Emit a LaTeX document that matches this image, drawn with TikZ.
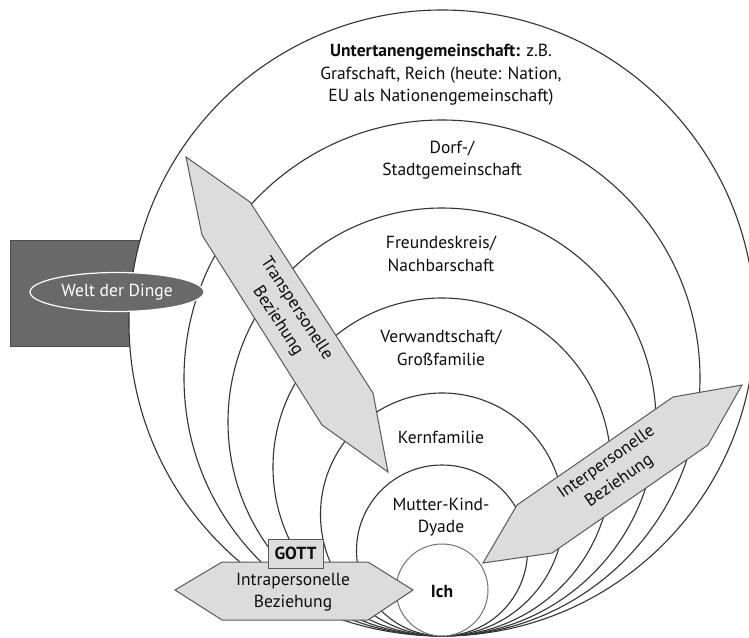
\documentclass[tikz,border=0pt]{standalone}
\usepackage{fontspec}
\setmainfont{PT Sans}
\usetikzlibrary{shapes.geometric}
\definecolor{dinge}{HTML}{696969}
\definecolor{pfeil}{HTML}{DCDCDC}
\tikzset{
  ring/.style={draw=black!80, fill=white, line width=1.1pt},
  beziehung/.style={draw=black!65, fill=pfeil, line width=1pt},
  schrift/.style={align=center, text=black!95, font=\fontsize{17.5}{22.5}\selectfont},
}

\begin{document}
\begin{tikzpicture}[x=1pt,y=-1pt]
        \useasboundingbox (0,0) rectangle (749,637);
        \draw[fill=dinge, draw=black!70, line width=1pt] (10,240) rectangle (220,346);
        % rings touching at the bottom
        \foreach \t in {10,120,208,298,393,465}{
            \pgfmathsetmacro\r{(636-\t)/2}
            \draw[ring] (442,636-\r) circle [radius=\r pt];
        }
        \draw[draw=black!55, fill=white, line width=1pt] (442,590) circle [radius=46pt];
        \node[ellipse, fill=dinge, draw=white, line width=1.2pt, minimum width=174pt,
              minimum height=39pt, inner sep=0pt, schrift, text=white] (welt) at (117,292) {Welt der Dinge};

        \node[schrift] (untertan) at (441,75) {\textbf{Untertanengemeinschaft:} z.B.\\Grafschaft, Reich (heute: Nation,\\EU als Nationengemeinschaft)};
        \node[schrift] (dorf) at (452,160) {Dorf-/\\Stadtgemeinschaft};
        \node[schrift] (freunde) at (441,254) {Freundeskreis/\\Nachbarschaft};
        \node[schrift] (verwandt) at (441,348) {Verwandtschaft/\\Großfamilie};
        \node[schrift] (kern) at (441,437) {Kernfamilie};
        \node[schrift] (dyade) at (441,517) {Mutter-Kind-\\Dyade};
        \node[schrift, font=\fontsize{17.5}{22.5}\selectfont\bfseries] (ich) at (442,591) {Ich};

        % Transpersonelle Beziehung
        \coordinate (t1) at (186,157);
        \coordinate (t2) at (250,202);
        \coordinate (t3) at (373,393);
        \coordinate (t4) at (388,472);
        \coordinate (t5) at (322,425);
        \coordinate (t6) at (202,235);
        \draw[beziehung] (t1) -- (t2) -- (t3) -- (t4) -- (t5) -- (t6) -- cycle;
        \node[schrift, rotate=-57] (trans) at (287,315) {Transpersonelle\\Beziehung};

        % Interpersonelle Beziehung
        \coordinate (i1) at (742,385);
        \coordinate (i2) at (673,397);
        \coordinate (i3) at (517,505);
        \coordinate (i4) at (483,563);
        \coordinate (i5) at (552,553);
        \coordinate (i6) at (708,445);
        \draw[beziehung] (i1) -- (i2) -- (i3) -- (i4) -- (i5) -- (i6) -- cycle;
        \node[schrift, rotate=35] (inter) at (613,472) {Interpersonelle\\Beziehung};

        % Intrapersonelle Beziehung
        \coordinate (a1) at (175,590);
        \coordinate (a2) at (222,562);
        \coordinate (a3) at (368,562);
        \coordinate (a4) at (413,590);
        \coordinate (a5) at (368,620);
        \coordinate (a6) at (222,620);
        \draw[beziehung] (a1) -- (a2) -- (a3) -- (a4) -- (a5) -- (a6) -- cycle;
        \node[schrift] (intra) at (293,592) {Intrapersonelle\\Beziehung};
        \node[beziehung, schrift, font=\fontsize{17.5}{22.5}\selectfont\bfseries, minimum width=55pt,
              minimum height=29pt, inner sep=0pt] (gott) at (295.5,553.5) {GOTT};
    \end{tikzpicture}
\end{document}
